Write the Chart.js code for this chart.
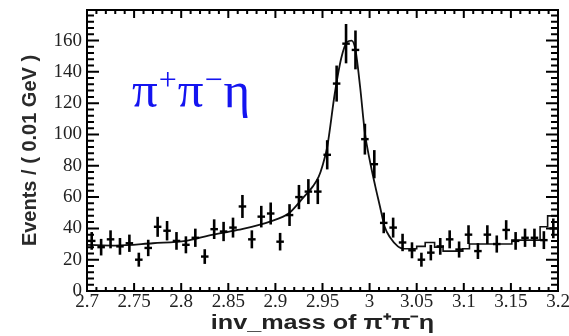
<!DOCTYPE html>
<html lang="en">
<head>
<meta charset="UTF-8">
<title>inv_mass of π+π−η</title>
<style>
  html, body { margin: 0; padding: 0; background: #fff; }
  #wrap { width: 569px; height: 336px; }
</style>
<script src="https://cdn.jsdelivr.net/npm/chart.js"></script>
</head>
<body>
<div id="wrap"><canvas id="massChart" width="569" height="336"></canvas></div>
<script>
// bin centres in GeV (0.01 GeV bins)
const binCenters = [
  2.705, 2.715, 2.725, 2.735, 2.745, 2.755, 2.765, 2.775, 2.785, 2.795,
  2.805, 2.815, 2.825, 2.835, 2.845, 2.855, 2.865, 2.875, 2.885, 2.895,
  2.905, 2.915, 2.925, 2.935, 2.945, 2.955, 2.965, 2.975, 2.985, 2.995,
  3.005, 3.015, 3.025, 3.035, 3.045, 3.055, 3.065, 3.075, 3.085, 3.095,
  3.105, 3.115, 3.125, 3.135, 3.145, 3.155, 3.165, 3.175, 3.185, 3.195
];
// events per bin
const events = [
  32, 28, 33, 28.5, 30.5, 20, 27.5, 41, 38.5, 32,
  29.5, 34, 22, 39.5, 38, 40.5, 54, 33, 47.5, 49.5,
  31.5, 48.5, 60, 63.5, 63.5, 87, 132.5, 158, 154, 97,
  81, 43.5, 40.5, 31, 26, 20, 24.5, 28.5, 33, 26.5,
  36, 25.5, 36, 30, 39, 32, 34, 34, 32.5, 40
];
// fitted curve (smooth part)
const fitMass = [
  2.700, 2.730, 2.770, 2.805, 2.830, 2.860, 2.895, 2.915, 2.930, 2.940,
  2.946, 2.950, 2.955, 2.963, 2.970, 2.976, 2.981, 2.985, 2.990, 2.995,
  3.000, 3.006, 3.011, 3.016, 3.022, 3.030, 3.035
];
const fitEvents = [
  29.5, 29, 30.5, 32, 35.5, 39, 44.5, 50, 60, 67,
  73, 80, 92, 126, 149, 159, 160, 154, 130, 101,
  84, 67, 54, 41, 34, 28.5, 27
];
// fitted curve, right side band (drawn as steps)
const sideMass = [3.035, 3.050, 3.059, 3.069, 3.078, 3.099, 3.106, 3.120, 3.151, 3.181, 3.189, 3.200];
const sideEvents = [27, 28.5, 31, 28, 25.5, 27, 30, 30, 32.5, 41, 48, 48];

const xTickValues = [2.7, 2.75, 2.8, 2.85, 2.9, 2.95, 3.0, 3.05, 3.1, 3.15, 3.2];
const yTickValues = [0, 20, 40, 60, 80, 100, 120, 140, 160];

// ROOT-like frame with ticks pointing inwards, on all four sides
const framePlugin = {
  id: 'frame',
  afterDatasetsDraw(chart) {
    const { ctx, chartArea: a, scales: { x, y } } = chart;
    ctx.save();
    ctx.strokeStyle = '#000';
    ctx.lineWidth = 2;
    ctx.strokeRect(a.left, a.top, a.right - a.left, a.bottom - a.top);
    ctx.beginPath();
    for (let k = 0; k <= 50; k++) {
      const px = x.getPixelForValue(2.7 + k * 0.01);
      const len = k % 5 === 0 ? 8 : 4;
      ctx.moveTo(px, a.bottom); ctx.lineTo(px, a.bottom - len);
      ctx.moveTo(px, a.top); ctx.lineTo(px, a.top + len);
    }
    for (let k = 0; k <= 44; k++) {
      const py = y.getPixelForValue(k * 4);
      const len = k % 5 === 0 ? 12 : 7;
      ctx.moveTo(a.left, py); ctx.lineTo(a.left + len, py);
      ctx.moveTo(a.right, py); ctx.lineTo(a.right - len, py);
    }
    ctx.stroke();
    ctx.restore();
  }
};

// data points with poisson error bars
const errorBarPlugin = {
  id: 'errorBars',
  afterDatasetsDraw(chart) {
    const { ctx, scales: { x, y } } = chart;
    ctx.save();
    ctx.strokeStyle = '#000';
    binCenters.forEach((m, i) => {
      const v = events[i];
      const err = Math.sqrt(v);
      const px = x.getPixelForValue(m);
      const py = y.getPixelForValue(v);
      ctx.lineWidth = 2.6;
      ctx.beginPath();
      ctx.moveTo(px, y.getPixelForValue(v + err));
      ctx.lineTo(px, y.getPixelForValue(v - err));
      ctx.stroke();
      ctx.lineWidth = 2.4;
      ctx.beginPath();
      ctx.moveTo(x.getPixelForValue(m - 0.004), py);
      ctx.lineTo(x.getPixelForValue(m + 0.004), py);
      ctx.stroke();
    });
    ctx.restore();
  }
};

// texts: x axis title (a bit stretched, like the original) and the blue channel label
const textPlugin = {
  id: 'texts',
  afterDraw(chart) {
    const { ctx, chartArea: a } = chart;
    ctx.save();
    ctx.fillStyle = '#222';
    ctx.textAlign = 'center';
    ctx.textBaseline = 'middle';
    ctx.font = 'bold 21px "Liberation Sans", Arial, sans-serif';
    ctx.translate((a.left + a.right) / 2, 323);
    ctx.scale(1.2, 1);
    ctx.fillText('inv_mass of π⁺π⁻η', 0, 0);
    ctx.restore();

    ctx.save();
    ctx.fillStyle = '#1414f0';
    ctx.textBaseline = 'alphabetic';
    const big = '51px "Liberation Serif", serif';
    const small = '32px "Liberation Serif", serif';
    const parts = [['π', big, 0], ['+', small, -17], ['π', big, 0], ['−', small, -17], ['η', big, 0]];
    let cx = 132;
    const base = 107;
    parts.forEach(([t, f, dy]) => {
      ctx.font = f;
      ctx.fillText(t, cx, base + dy);
      cx += ctx.measureText(t).width + 1;
    });
    ctx.restore();
  }
};

new Chart(document.getElementById('massChart'), {
  data: {
    datasets: [
      {
        type: 'scatter',
        data: binCenters.map((m, i) => ({ x: m, y: events[i] })),
        pointRadius: 0,
        showLine: false
      },
      {
        type: 'line',
        data: fitMass.map((m, i) => ({ x: m, y: fitEvents[i] })),
        borderColor: '#111',
        borderWidth: 1.8,
        pointRadius: 0,
        cubicInterpolationMode: 'monotone'
      },
      {
        type: 'line',
        data: sideMass.map((m, i) => ({ x: m, y: sideEvents[i] })),
        borderColor: '#111',
        borderWidth: 1.6,
        pointRadius: 0,
        stepped: true
      }
    ]
  },
  options: {
    responsive: false,
    devicePixelRatio: 1,
    animation: false,
    layout: { padding: { left: 0, right: 11, top: 10, bottom: 0 } },
    plugins: { legend: { display: false }, tooltip: { enabled: false } },
    scales: {
      x: {
        type: 'linear',
        min: 2.7,
        max: 3.2,
        afterBuildTicks: s => { s.ticks = xTickValues.map(v => ({ value: v })); },
        afterFit: s => { s.height = 45; s.paddingLeft = 0; s.paddingRight = 0; },
        grid: { display: false, drawTicks: false },
        border: { display: false },
        ticks: {
          font: { family: 'Liberation Serif', size: 19 },
          color: '#222',
          padding: 0,
          maxRotation: 0,
          autoSkip: false,
          callback: v => String(+v.toFixed(2))
        },
        title: { display: false }
      },
      y: {
        type: 'linear',
        min: 0,
        max: 179.5,
        afterBuildTicks: s => { s.ticks = yTickValues.map(v => ({ value: v })); },
        afterFit: s => { s.width = 87; s.paddingTop = 0; s.paddingBottom = 0; },
        grid: { display: false, drawTicks: false },
        border: { display: false },
        ticks: {
          font: { family: 'Liberation Serif', size: 19 },
          color: '#222',
          padding: 5
        },
        title: {
          display: true,
          text: 'Events / ( 0.01 GeV )',
          font: { family: 'Liberation Sans', size: 20, weight: 'bold' },
          color: '#2a2a2a',
          padding: { top: 18, bottom: 0 }
        }
      }
    }
  },
  plugins: [framePlugin, errorBarPlugin, textPlugin]
});
</script>
</body>
</html>
